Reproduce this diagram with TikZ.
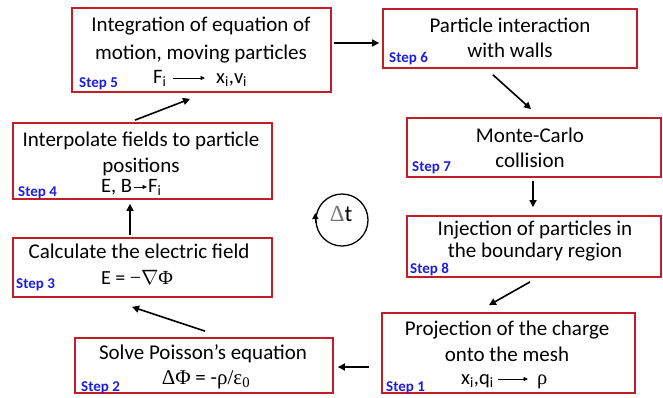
\documentclass[tikz,border=0pt]{standalone}
\usepackage{fontspec}
\setmainfont{Carlito}
\newfontfamily\grk{Liberation Serif}
\usetikzlibrary{arrows.meta,calc}
\definecolor{boxred}{RGB}{192,30,40}
\definecolor{stepblue}{RGB}{30,30,225}
\begin{document}
\begin{tikzpicture}[x=1pt,y=-1pt,
  box/.style={draw=boxred, line width=1.8pt, rectangle, inner sep=0pt},
  txt/.style={anchor=base, font=\fontsize{21}{25}\selectfont, inner sep=0pt},
  mth/.style={anchor=base west, font=\fontsize{20.5}{24}\selectfont, inner sep=0pt},
  mthc/.style={anchor=base, font=\fontsize{20}{24}\selectfont, inner sep=0pt},
  steplbl/.style={anchor=base west, font=\fontsize{15}{18}\selectfont\bfseries, text=stepblue, inner sep=0pt},
  arr/.style={-{Triangle[length=7pt,width=7pt]}, line width=1.6pt},
  thinarr/.style={-{Triangle[length=4.5pt,width=4pt]}, line width=0.8pt}]
\fill[white] (0,0) rectangle (663,397);
\useasboundingbox (0,0) rectangle (663,397);

% boxes
\node[box, minimum width=259pt, minimum height=84pt] (b5) at (201.5,50) {};
\node[box, minimum width=254pt, minimum height=59pt] (b6) at (510,38.5) {};
\node[box, minimum width=254pt, minimum height=59pt] (b7) at (534,147.5) {};
\node[box, minimum width=254pt, minimum height=61pt] (b8) at (534,246.5) {};
\node[box, minimum width=253pt, minimum height=80pt] (b1) at (508.5,353) {};
\node[box, minimum width=258pt, minimum height=55pt] (b2) at (204,365.5) {};
\node[box, minimum width=259pt, minimum height=59pt] (b3) at (142.5,267.5) {};
\node[box, minimum width=259pt, minimum height=76pt] (b4) at (142.5,161) {};

% box 5
\node[txt] (t5a) at (201,31) {Integration of equation of};
\node[txt] (t5b) at (201,59) {motion, moving particles};
\node[mth] (f5) at (153,83) {F\textsubscript{i}};
\node[mth] (x5) at (216,83) {x\textsubscript{i},v\textsubscript{i}};
\draw[thinarr] ([xshift=6pt,yshift=5pt]f5.base east) -- ([xshift=-11pt,yshift=5pt]x5.base west);
\node[steplbl] (s5) at (79,87) {Step 5};

% box 6
\node[txt] (t6a) at (510,32) {Particle interaction};
\node[txt] (t6b) at (510,57) {with walls};
\node[steplbl] (s6) at (389,62) {Step 6};

% box 7
\node[txt] (t7a) at (530,142) {Monte-Carlo};
\node[txt] (t7b) at (530,167) {collision};
\node[steplbl] (s7) at (412,171) {Step 7};

% box 8
\node[txt] (t8a) at (535,235) {Injection of particles in};
\node[txt] (t8b) at (535,257) {the boundary region};
\node[steplbl] (s8) at (410,273) {Step 8};

% box 1
\node[txt] (t1a) at (507,335) {Projection of the charge};
\node[txt] (t1b) at (507,361) {onto the mesh};
\node[mth] (x1) at (461,384) {x\textsubscript{i},q\textsubscript{i}};
\node[mth] (r1) at (537,384) {\grk ρ};
\draw[thinarr] ([xshift=4pt,yshift=5pt]x1.base east) -- ([xshift=-9pt,yshift=5pt]r1.base west);
\node[steplbl] (s1) at (386,391) {Step 1};

% box 2
\node[txt] (t2a) at (203,359) {Solve Poisson’s equation};
\node[mthc, font=\fontsize{21}{25}\selectfont] (m2) at (206,384) {{\grk ΔΦ} = -{\grk ρ/ε\textsubscript{0}}};
\node[steplbl] (s2) at (81,391) {Step 2};

% box 3
\node[txt] (t3a) at (139,258) {Calculate the electric field};
\node[mthc] (m3) at (137,284) {E = {\grk −}$\nabla${\grk Φ}};
\node[steplbl] (s3) at (16,288) {Step 3};

% box 4
\node[txt] (t4a) at (141,146) {Interpolate fields to particle};
\node[txt] (t4b) at (141,172) {positions};
\node[mth] (e4) at (101,192) {E, B};
\node[mth] (f4) at (148,192) {F\textsubscript{i}};
\draw[thinarr] ([xshift=2pt,yshift=5pt]e4.base east) -- ([xshift=-1pt,yshift=5pt]f4.base west);
\node[steplbl] (s4) at (18,196) {Step 4};

% time-step circle
\node[draw, circle, line width=1.3pt, minimum size=52pt, inner sep=0pt] (dt) at (342,220) {};
\node[anchor=base, font=\fontsize{23}{27}\selectfont, inner sep=0pt] (dtl) at (341,221) {{\grk\color{black!55}Δ}t};
\draw[-{Triangle[length=6pt,width=6pt]}, line width=1.3pt] ([yshift=-3pt]dt.west) -- ([yshift=7pt]dt.west);

% cycle connectors
\draw[arr, shorten <=2pt, shorten >=3pt] ([yshift=7pt]b5.east) -- ([yshift=7pt]b5.east -| b6.west);
\draw[arr] ([xshift=-17pt,yshift=-6pt]b6.south) -- ([xshift=-3pt,yshift=8pt]b7.north);
\draw[arr] ([xshift=-1pt,yshift=-3pt]b7.south) -- ([xshift=-1pt,yshift=8pt]b8.north);
\draw[arr] ([xshift=-4pt,yshift=-4pt]b8.south) -- ([xshift=-19.5pt,yshift=7pt]b1.north);
\draw[arr] ([xshift=-12pt,yshift=-14pt]b1.west) -- ([xshift=4pt,yshift=-1.5pt]b2.east);
\draw[arr] ([xshift=1pt,yshift=6pt]b2.north) -- ([xshift=-10.5pt,yshift=-9pt]b3.south);
\draw[arr] ([xshift=-12.5pt,yshift=2pt]b3.north) -- ([xshift=-12.5pt,yshift=-4pt]b4.south);
\draw[arr] ([xshift=-7.5pt,yshift=2pt]b4.north) -- ([xshift=-11.5pt,yshift=-6pt]b5.south);
\end{tikzpicture}
\end{document}
